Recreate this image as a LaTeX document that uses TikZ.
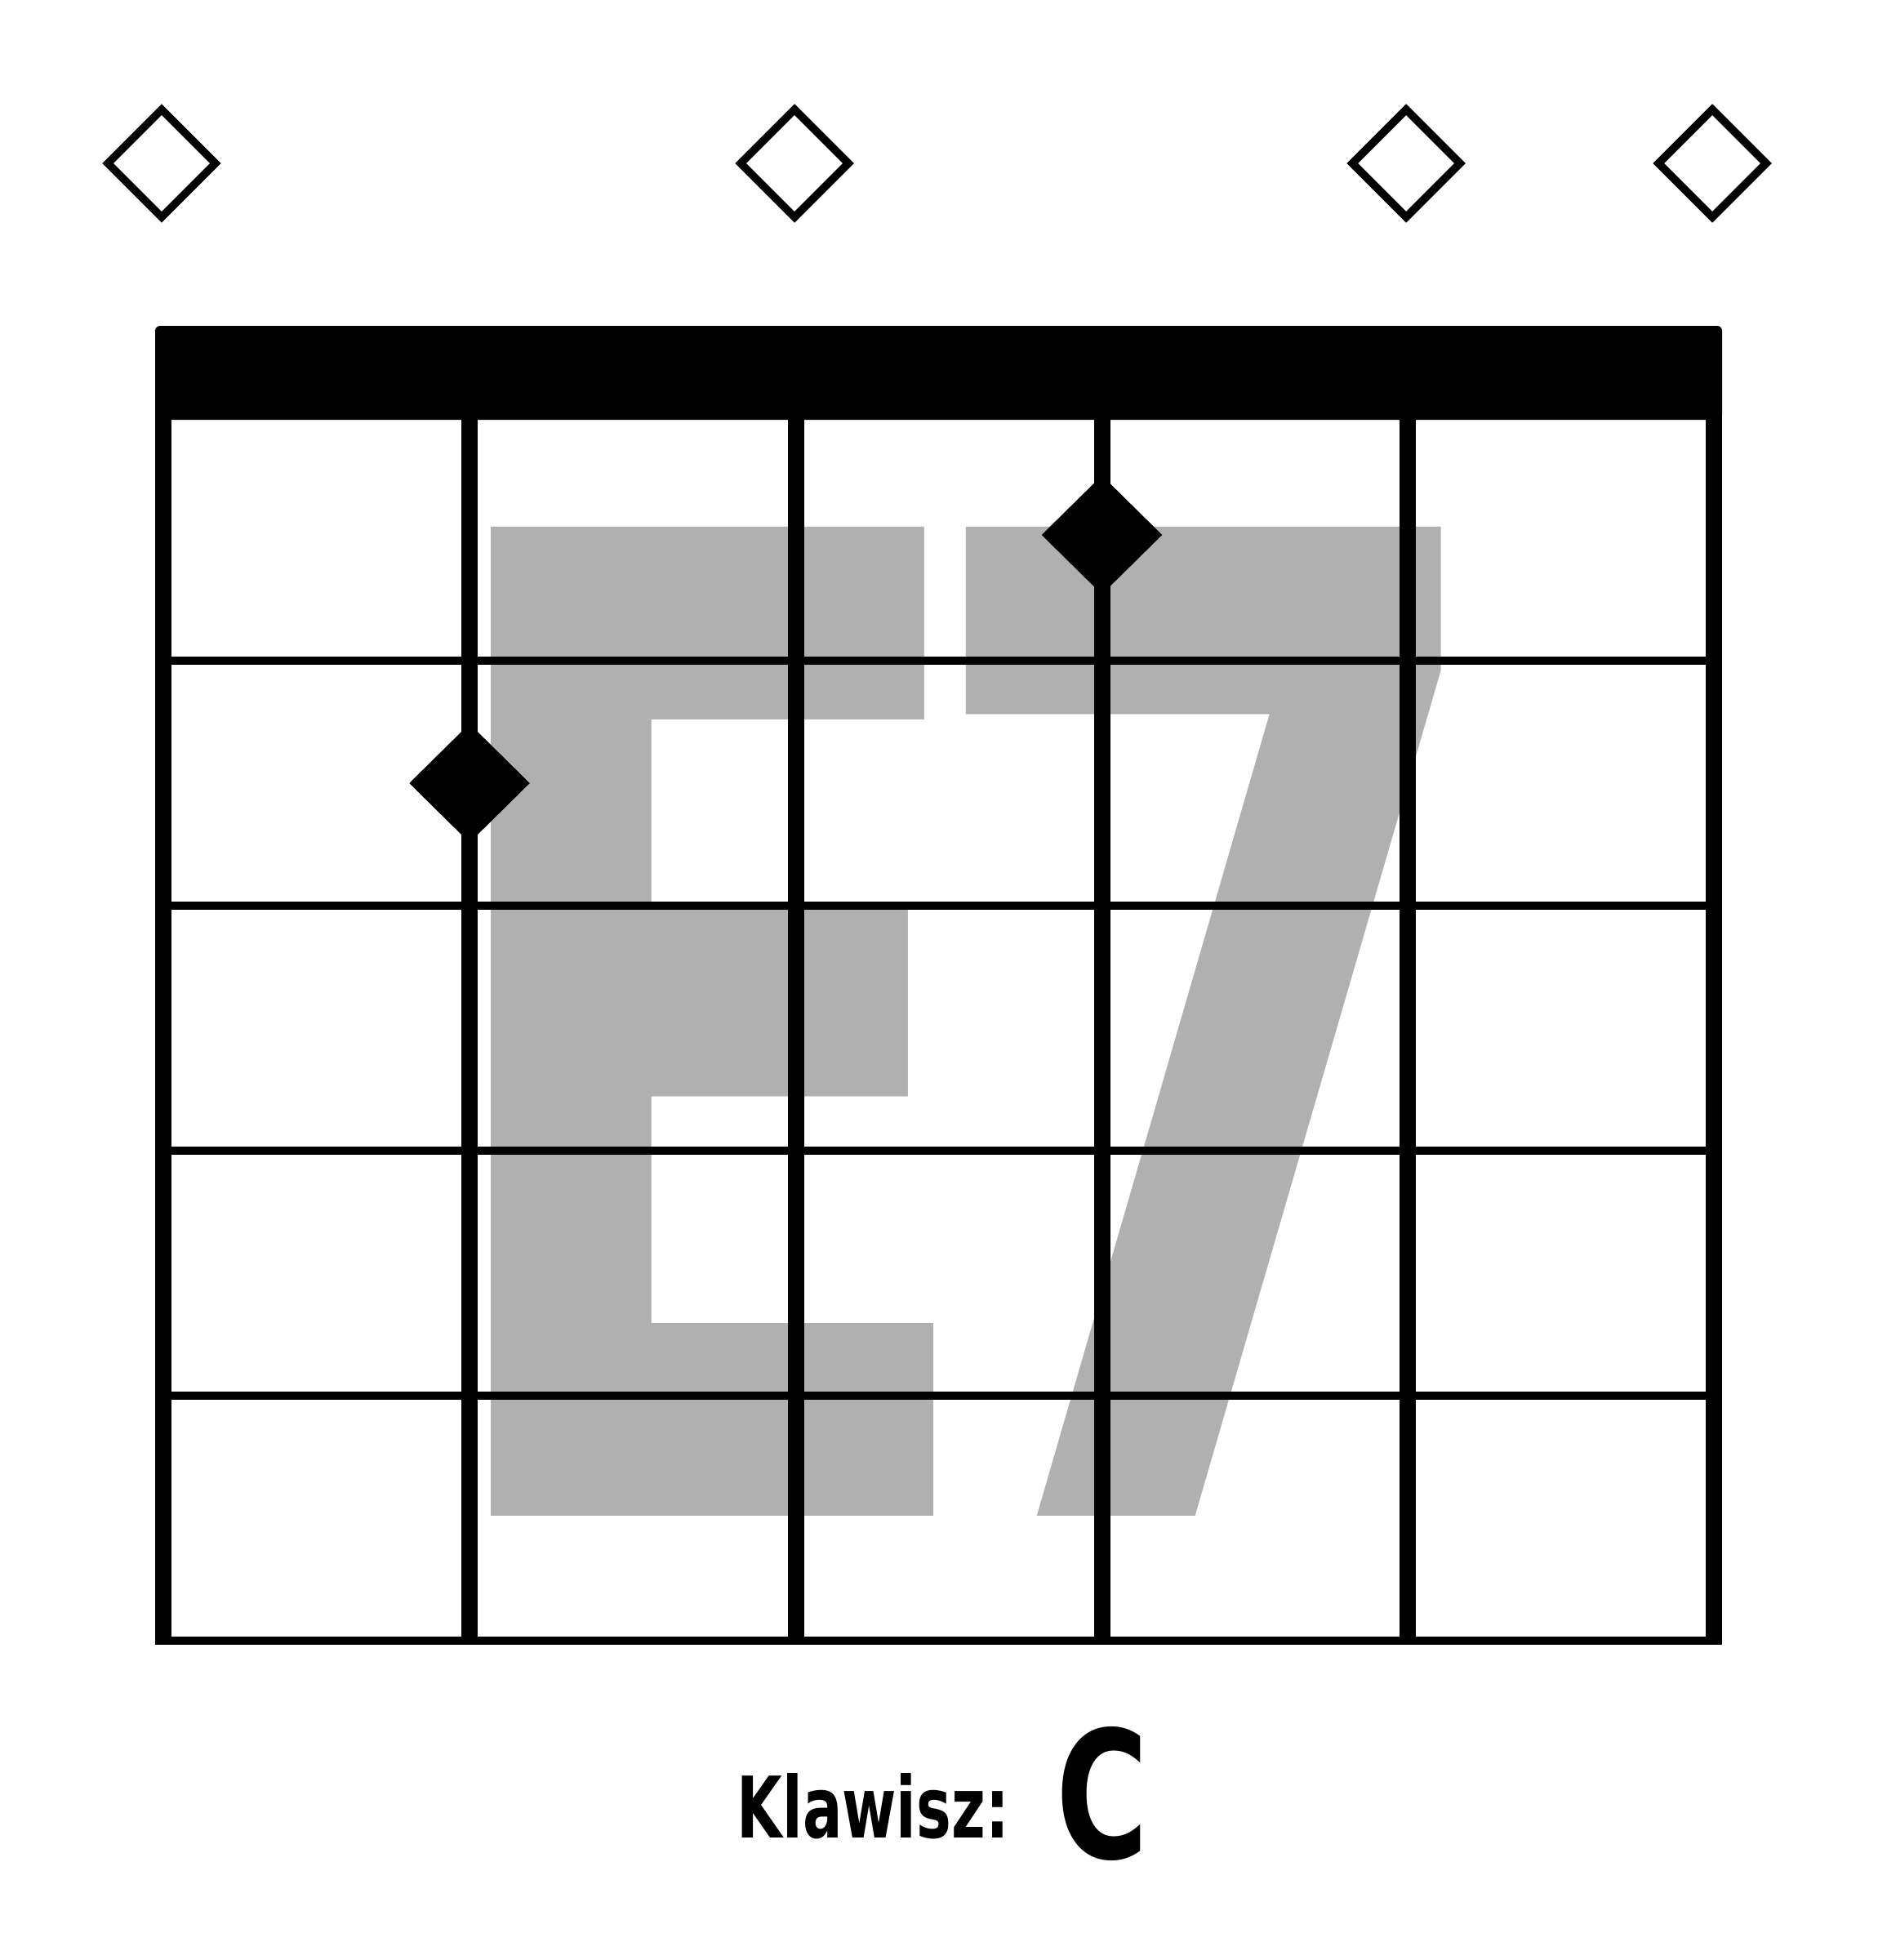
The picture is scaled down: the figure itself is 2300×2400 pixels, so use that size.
\documentclass[tikz,border=0pt]{standalone}
\usepackage{fontspec}
\setmainfont{DejaVu Sans}
\usepackage{graphicx}
\usepackage{xcolor}
\usetikzlibrary{shapes.geometric}
\definecolor{chordgray}{HTML}{B0B0B0}

\begin{document}
\begin{tikzpicture}[x=0.01cm, y=-0.01cm, strline/.style={line width=0.2cm}, fret/.style={line width=0.1cm},
    openstr/.style={diamond, draw, line width=0.097cm, inner sep=0pt, minimum size=1.357cm},
    finger/.style={diamond, fill, inner sep=0pt, minimum width=1.48cm, minimum height=1.46cm},
    chord/.style={inner sep=0pt, anchor=south west, text=chordgray, font=\bfseries}]
    \fill[white] (0,0) rectangle (2300,2400);
    \useasboundingbox (0,0) rectangle (2300,2400);

    % chord name behind the grid
    \node[chord] (chE) at (505,1857) {\resizebox{7.14cm}{12.09cm}{E}};
    \node[chord] (ch7) at (1112,1857) {\resizebox{7.36cm}{12.09cm}{7}};

    % nut, strings and frets
    \fill[rounded corners=0.06cm] (190,399) rectangle (2109,514);
    \foreach \x in {200,575,975,1349.5,1724,2099}
        \draw[strline] (\x,500) -- (\x,2013);
    \foreach \y in {809,1109,1409,1709,2008.5}
        \draw[fret] (190,\y) -- (2109,\y);

    % open strings and fingers
    \foreach \x/\n in {198/one,973/three,1722/five,2097/six}
        \node[openstr] (o\n) at (\x,200) {};
    \node[finger] (f2) at (575,959) {};
    \node[finger] (f4) at (1349.5,655) {};

    \node[anchor=base west, inner sep=0pt] (key) at (902,2250) {\resizebox{3.33cm}{0.79cm}{\bfseries Klawisz:}};
    \node[anchor=base west, inner sep=0pt] (keyC) at (1293,2275) {\resizebox{1.13cm}{1.61cm}{\bfseries C}};
\end{tikzpicture}
\end{document}
